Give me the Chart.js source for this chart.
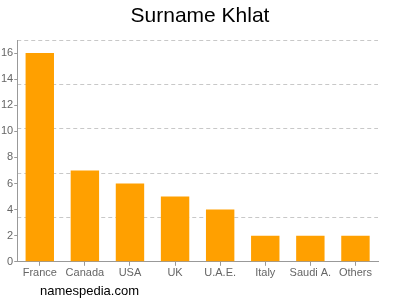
<!DOCTYPE html>
<html>
<head>
<meta charset="utf-8">
<script src="https://cdn.jsdelivr.net/npm/chart.js@4/dist/chart.umd.min.js"></script>
<style>
  html, body { margin: 0; padding: 0; background: #fff; }
  #wrap { position: relative; width: 400px; height: 300px; }
  #title {
    position: absolute; left: 0; top: 3px; width: 400px; text-align: center;
    font-family: "Liberation Sans", Arial, sans-serif; font-size: 21px; color: #000;
  }
  #credit {
    position: absolute; left: 40px; top: 283px;
    font-family: "Liberation Sans", Arial, sans-serif; font-size: 13px; color: #000;
  }
</style>
</head>
<body>
<div id="wrap">
  <canvas id="chart" width="400" height="300"></canvas>
  <div id="title">Surname Khlat</div>
  <div id="credit">namespedia.com</div>
</div>
<script>
const categories = ["France", "Canada", "USA", "UK", "U.A.E.", "Italy", "Saudi A.", "Others"];
const counts = [16, 7, 6, 5, 4, 2, 2, 2];
const yTickValues = [0, 2, 4, 6, 8, 10, 12, 14, 16];
const gridValues = [0, 3.4, 6.8, 10.2, 13.6, 17];

const axisGrey = "#999999";
const labelGrey = "#666666";
const fontFamily = "'Liberation Sans', Arial, sans-serif";

const chartConfig = {
  type: "bar",
  data: {
    labels: categories,
    datasets: [
      {
        data: counts,
        backgroundColor: "#FFA000",
        categoryPercentage: 0.63,
        barPercentage: 1,
      },
    ],
  },
  options: {
    responsive: false,
    animation: false,
    layout: {
      padding: { left: 0, right: 22, top: 40, bottom: 19 },
    },
    plugins: {
      legend: { display: false },
      tooltip: { enabled: false },
    },
    scales: {
      x: {
        grid: {
          display: true,
          drawOnChartArea: false,
          offset: false,
          tickLength: 4,
          color: axisGrey,
        },
        border: { color: axisGrey, width: 1 },
        ticks: {
          color: labelGrey,
          font: { family: fontFamily, size: 11 },
          padding: 1,
          maxRotation: 0,
          autoSkip: false,
        },
      },
      y: {
        position: "left",
        min: 0,
        max: 17,
        afterBuildTicks: (axis) => {
          axis.ticks = yTickValues.map((v) => ({ value: v }));
        },
        grid: {
          drawOnChartArea: false,
          tickLength: 3,
          color: axisGrey,
        },
        border: { color: axisGrey, width: 1 },
        ticks: {
          color: labelGrey,
          font: { family: fontFamily, size: 11 },
          padding: 1,
        },
      },
      y2: {
        position: "right",
        min: 0,
        max: 17,
        afterBuildTicks: (axis) => {
          axis.ticks = gridValues.map((v) => ({ value: v }));
        },
        grid: {
          drawTicks: false,
          color: "#c8c8c8",
          lineWidth: 1,
        },
        border: { display: false, dash: [4, 3] },
        ticks: { display: false },
      },
    },
  },
};

new Chart(document.getElementById("chart"), chartConfig);
</script>
</body>
</html>
